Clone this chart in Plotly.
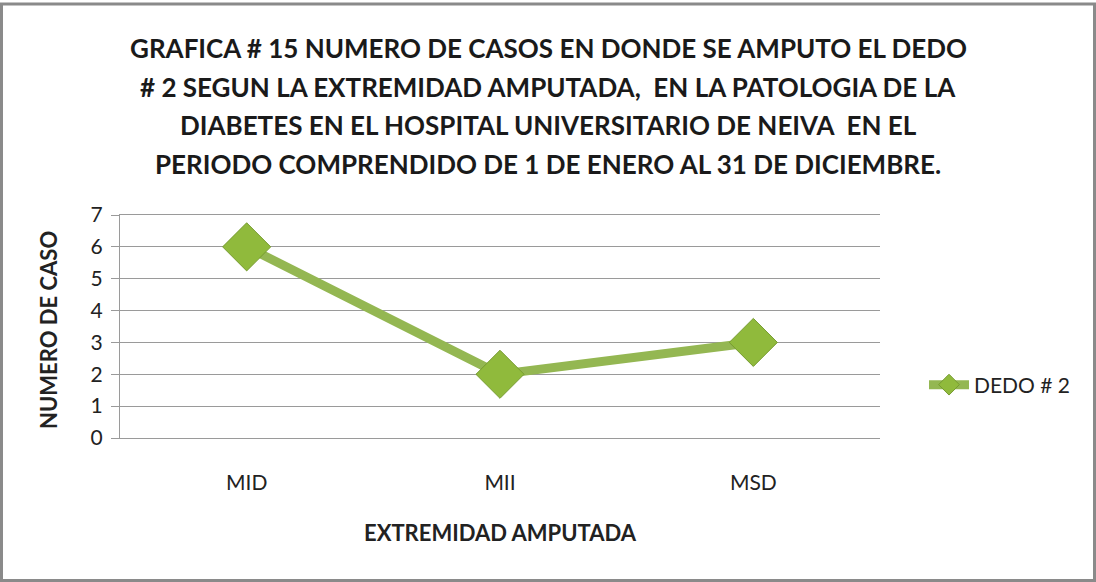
import plotly.graph_objects as go

categories = ["MID", "MII", "MSD"]
values = [6, 2, 3]
series_name = "DEDO # 2"
title_lines = [
    "GRAFICA # 15 NUMERO DE CASOS EN DONDE SE AMPUTO EL DEDO",
    "# 2 SEGUN LA EXTREMIDAD AMPUTADA,  EN LA PATOLOGIA DE LA",
    "DIABETES EN EL HOSPITAL UNIVERSITARIO DE NEIVA  EN EL",
    "PERIODO COMPRENDIDO DE 1 DE ENERO AL 31 DE DICIEMBRE.",
]
y_title = "NUMERO DE CASO"
x_title = "EXTREMIDAD AMPUTADA"

W, H = 1096, 582
L, R, T, B = 120, 216, 215, 144
pw, ph = W - L - R, H - T - B

def px(x):
    return (x - L) / pw

def py(y):
    return (H - B - y) / ph

FONT = "Lato"

fig = go.Figure()
fig.add_trace(go.Scatter(
    x=categories, y=values, name=series_name, mode="lines+markers",
    line=dict(color="#94B752", width=9),
    marker=dict(symbol="diamond", size=37, color="#90BA3C",
                line=dict(color="#769B30", width=1)),
))

title_font = dict(family=FONT, size=26, color="#1a1a1a")
for i, t in enumerate(title_lines):
    fig.add_annotation(text="<b>" + t + "</b>", x=px(548), y=py(48 + 38.7 * i),
                       xref="paper", yref="paper", showarrow=False,
                       font=title_font, xanchor="center", yanchor="middle")

fig.add_annotation(text="<b>" + y_title + "</b>", x=px(48), y=py(330),
                   xref="paper", yref="paper", showarrow=False, textangle=-90,
                   font=dict(family=FONT, size=22, color="#222"),
                   xanchor="center", yanchor="middle")

fig.add_shape(type="rect", xref="paper", yref="paper",
              x0=px(1.5), x1=px(1094.5), y0=py(580.5), y1=py(4),
              line=dict(color="#8a8a8a", width=3), layer="below")

fig.update_layout(
    width=W, height=H,
    margin=dict(l=L, r=R, t=T, b=B),
    paper_bgcolor="white", plot_bgcolor="white",
    font=dict(family=FONT, size=21, color="#222"),
    showlegend=True,
    legend=dict(x=px(924), y=py(385), xref="paper", yref="paper",
                xanchor="left", yanchor="middle",
                font=dict(family=FONT, size=21, color="#222"),
                itemwidth=40),
    xaxis=dict(
        range=[-0.5, 2.5],
        showgrid=False, showline=True, mirror=True, linecolor="#9a9a9a",
        ticks="", ticklabelstandoff=26,
        title=dict(text="<b>" + x_title + "</b>", standoff=32,
                   font=dict(family=FONT, size=22)),
    ),
    yaxis=dict(
        range=[0, 7], dtick=1, showgrid=True, gridcolor="#9a9a9a", gridwidth=1,
        showline=True, linecolor="#9a9a9a", ticks="outside", ticklen=8,
        tickcolor="#9a9a9a", zeroline=False, ticklabelstandoff=4,
    ),
)

fig.write_html("out.html", config={"displayModeBar": False},
               post_script="document.body.style.margin='0';")
